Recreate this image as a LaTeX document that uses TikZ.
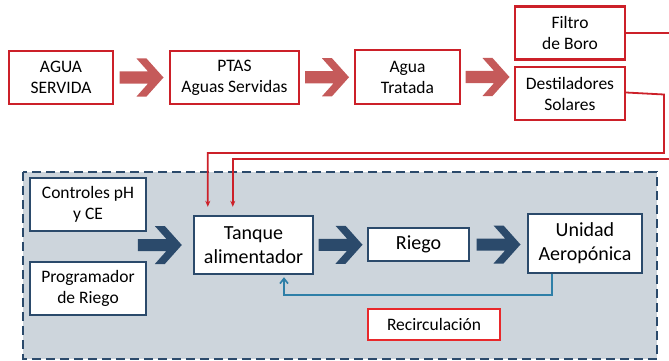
\documentclass[tikz,border=0pt]{standalone}
\usepackage{fontspec}
\setmainfont{Carlito}
\usetikzlibrary{arrows.meta,calc}
\definecolor{rojo}{HTML}{CC2029}
\definecolor{rojochev}{HTML}{C55A5A}
\definecolor{azulosc}{HTML}{2B4A6B}
\definecolor{fondo}{HTML}{CDD5DC}
\definecolor{azulrec}{HTML}{2E7FA8}
\definecolor{rojorec}{HTML}{E8282B}
\tikzset{
  chev/.pic={\fill[#1] (-22,-6) -- (6.6,-6) -- (-5,-19) -- (5,-19) -- (22,0)
    -- (5,19) -- (-5,19) -- (6.6,6) -- (-22,6) -- cycle;},
  caja/.style={draw=rojo, line width=2.2pt, fill=white, align=center,
    inner sep=0pt, font=\fontsize{17.5}{21}\selectfont},
  cajaosc/.style={draw=azulosc, line width=2.4pt, fill=white, align=center,
    inner sep=0pt, font=\fontsize{17.5}{21}\selectfont},
  cajagr/.style={cajaosc, font=\fontsize{20}{24}\selectfont},
  linea/.style={draw=rojo, line width=1.8pt},
}
\begin{document}
\begin{tikzpicture}[x=1pt,y=-1pt]
\useasboundingbox (0,0) rectangle (669,361);
\draw[azulosc, fill=fondo, line width=2.6pt, dash pattern=on 9pt off 5pt] (23,172) rectangle (657,359);
\node[caja, minimum width=104, minimum height=53] (agua) at (61,77.5) {AGUA\\SERVIDA};
\node[caja, minimum width=129, minimum height=53] (ptas) at (234.5,77.5) {PTAS\\Aguas Servidas};
\node[caja, minimum width=105, minimum height=54] (tratada) at (407.5,77) {Agua\\Tratada};
\node[caja, minimum width=110, minimum height=53] (filtro) at (570,33) {Filtro\\de Boro};
\node[caja, minimum width=110, minimum height=53] (dest) at (570,93.5) {Destiladores\\Solares};
\node[cajaosc, minimum width=116, minimum height=53] (ctrl) at (88,204.5) {Controles pH\\y CE};
\node[cajaosc, minimum width=116, minimum height=53] (prog) at (88,288.5) {Programador\\de Riego};
\node[cajagr, minimum width=119, minimum height=58] (tanque) at (253.5,245) {Tanque\\alimentador};
\node[cajagr, minimum width=101, minimum height=33] (riego) at (418.5,244.5) {Riego};
\node[cajagr, minimum width=114, minimum height=59] (unidad) at (585,243.5) {Unidad\\Aeropónica};
\node[caja, draw=rojorec, minimum width=132, minimum height=31] (recirc) at (434,324.5) {Recirculación};
\pic at ($(agua.east)!.5!(ptas.west)$) {chev=rojochev};
\pic at ($(ptas.east)!.5!(tratada.west)$) {chev=rojochev};
\pic at ($(tratada.east)!.5!(tratada.east -| dest.west)$) {chev=rojochev};
\pic at ($(tanque.west)+(-33,0)$) {chev=azulosc};
\pic at ($(tanque.east)!.5!(riego.west)$) {chev=azulosc};
\pic at ($(riego.east)!.5!(riego.east -| unidad.west)$) {chev=azulosc};
\coordinate (borde1) at (669,33);
\coordinate (borde2) at (669,159);
\draw[linea] (filtro.east) -- (borde1);
\draw[linea, -{Stealth[length=6pt,width=5pt]}, shorten >=8pt] ([yshift=1pt]dest.east) -- (664,94.5) -- (664,153) -| ([xshift=15pt]tanque.north west);
\draw[linea, -{Stealth[length=6pt,width=5pt]}, shorten >=8pt] (borde2) -| ([xshift=40pt]tanque.north west);
\draw[azulrec, line width=1.7pt, -{Straight Barb[length=5pt,width=8pt]}, shorten >=2pt] ([xshift=25pt]unidad.south west) |- (284,295) -- (284,295 |- tanque.south);
\end{tikzpicture}
\end{document}
